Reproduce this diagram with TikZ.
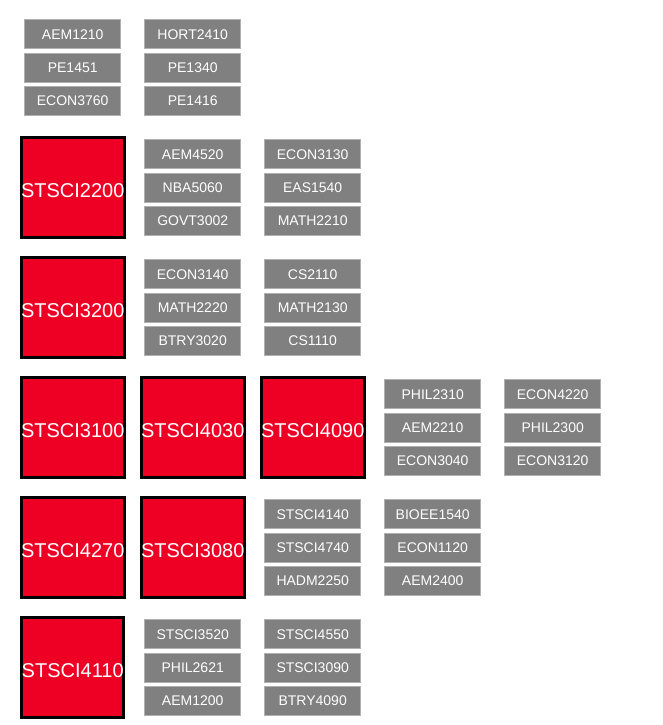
\documentclass[tikz,border=0pt]{standalone}
\usepackage{fontspec}
\setmainfont{Liberation Sans}
\definecolor{cred}{HTML}{EE0024}
\definecolor{cgray}{HTML}{808080}
\definecolor{cborder}{HTML}{B0B0B0}
\tikzset{
  course/.style={draw=cborder, fill=cgray, line width=1pt, minimum width=96pt, minimum height=29pt, inner sep=0pt, text=white, font=\fontsize{14}{16}\selectfont},
  core/.style={draw=black, fill=cred, line width=3pt, minimum size=100pt, inner sep=0pt, text=white, text height=20pt, text depth=0pt, font=\fontsize{20}{24}\selectfont}
}
\newcommand\coursegroup[5]{%
  \node[course] (#3) at (#1,#2-33.3) {#3};
  \node[course] (#4) at (#1,#2) {#4};
  \node[course] (#5) at (#1,#2+33.3) {#5};
}
\begin{document}
\begin{tikzpicture}[x=1pt,y=-1pt]
\useasboundingbox (0,0) rectangle (663,725);
% row 0
\coursegroup{72.7}{67.7}{AEM1210}{PE1451}{ECON3760}
\coursegroup{192.7}{67.7}{HORT2410}{PE1340}{PE1416}
% row 1
\node[core] (STSCI2200) at (72.7,187.7) {STSCI2200};
\coursegroup{192.7}{187.7}{AEM4520}{NBA5060}{GOVT3002}
\coursegroup{312.7}{187.7}{ECON3130}{EAS1540}{MATH2210}
% row 2
\node[core] (STSCI3200) at (72.7,307.7) {STSCI3200};
\coursegroup{192.7}{307.7}{ECON3140}{MATH2220}{BTRY3020}
\coursegroup{312.7}{307.7}{CS2110}{MATH2130}{CS1110}
% row 3
\node[core] (STSCI3100) at (72.7,427.7) {STSCI3100};
\node[core] (STSCI4030) at (192.7,427.7) {STSCI4030};
\node[core] (STSCI4090) at (312.7,427.7) {STSCI4090};
\coursegroup{432.7}{427.7}{PHIL2310}{AEM2210}{ECON3040}
\coursegroup{552.7}{427.7}{ECON4220}{PHIL2300}{ECON3120}
% row 4
\node[core] (STSCI4270) at (72.7,547.7) {STSCI4270};
\node[core] (STSCI3080) at (192.7,547.7) {STSCI3080};
\coursegroup{312.7}{547.7}{STSCI4140}{STSCI4740}{HADM2250}
\coursegroup{432.7}{547.7}{BIOEE1540}{ECON1120}{AEM2400}
% row 5
\node[core] (STSCI4110) at (72.7,667.7) {STSCI4110};
\coursegroup{192.7}{667.7}{STSCI3520}{PHIL2621}{AEM1200}
\coursegroup{312.7}{667.7}{STSCI4550}{STSCI3090}{BTRY4090}
\end{tikzpicture}
\end{document}
